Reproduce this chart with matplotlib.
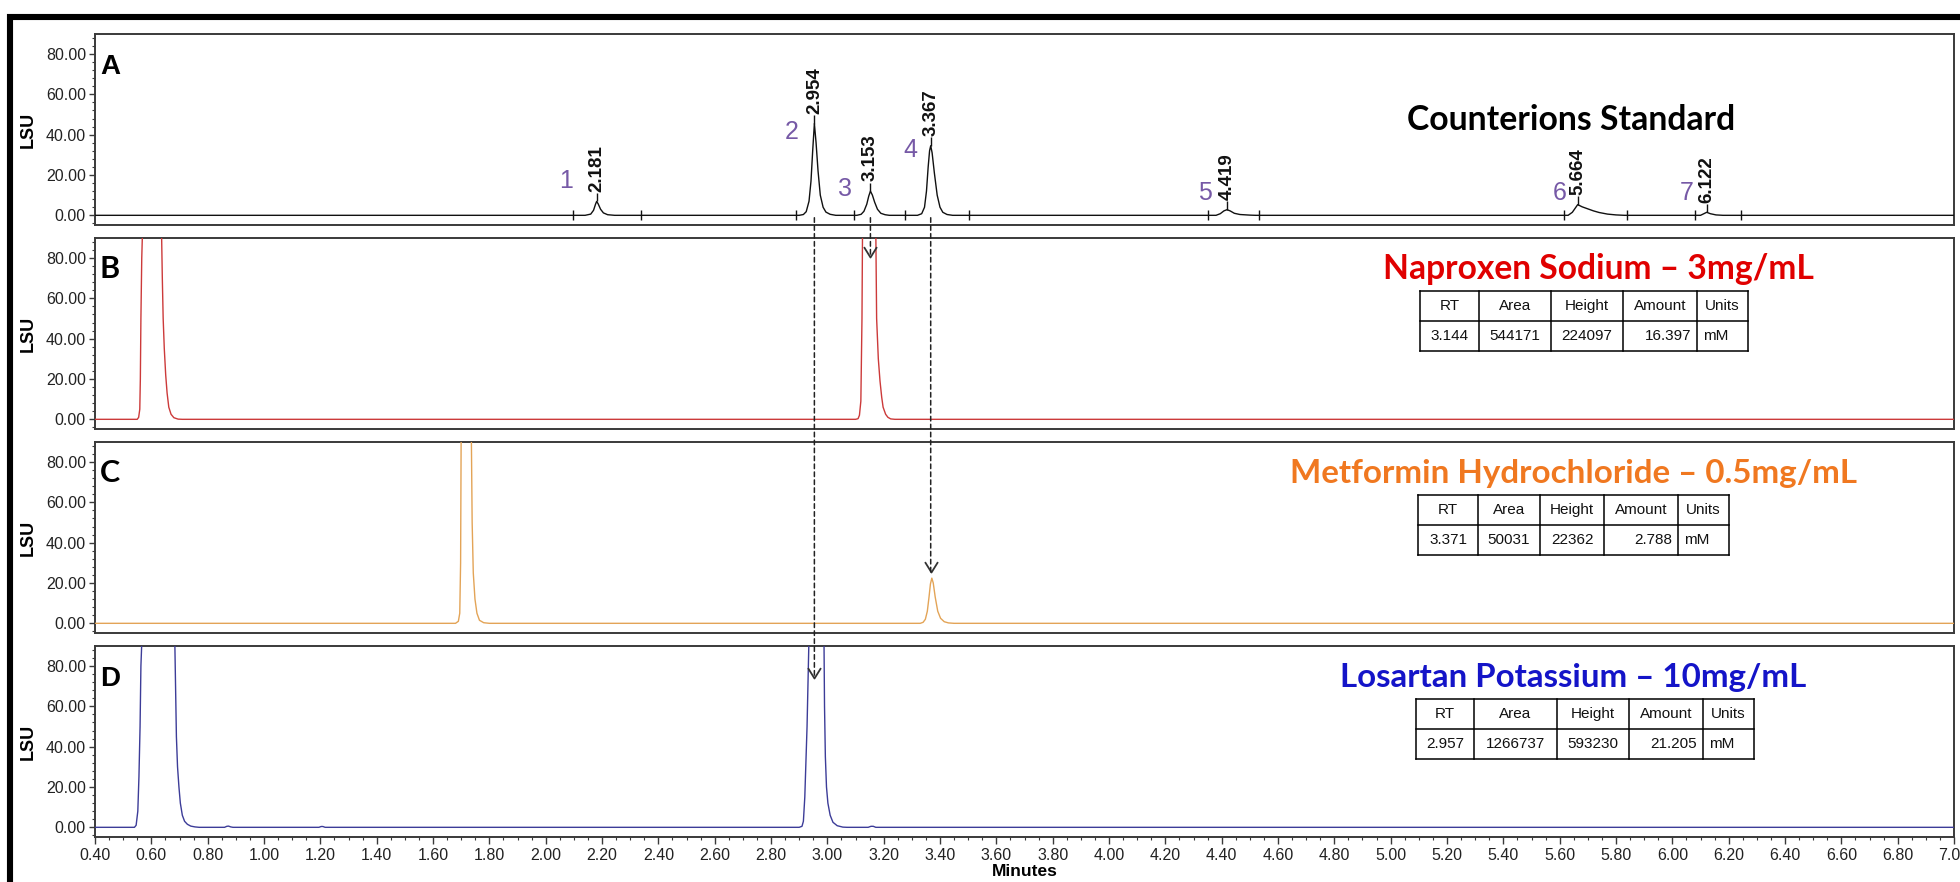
import matplotlib
matplotlib.use("Agg")
import matplotlib.pyplot as plt
from matplotlib.ticker import MultipleLocator, FormatStrFormatter, NullLocator
from matplotlib.patches import ConnectionPatch, Rectangle
from matplotlib.lines import Line2D
from matplotlib.path import Path

# ----------------------------------------------------------------- data
x_range = (0.40, 7.00)
y_range = (-4.8, 89.9)
y_major = [0, 20, 40, 60, 80]

# A : counterions standard
A_time = [0.40,
          2.140, 2.160, 2.170, 2.177, 2.181, 2.186, 2.195, 2.205, 2.220, 2.245,
          2.900, 2.915, 2.925, 2.935, 2.942, 2.948, 2.954, 2.960, 2.967, 2.975, 2.985, 2.995, 3.010, 3.030,
          3.105, 3.120, 3.130, 3.140, 3.147, 3.153, 3.160, 3.168, 3.178, 3.190, 3.205, 3.220,
          3.320, 3.335, 3.345, 3.352, 3.358, 3.363, 3.367, 3.372, 3.380, 3.390, 3.400, 3.410, 3.425, 3.445,
          4.380, 4.395, 4.408, 4.419, 4.430, 4.445, 4.465, 4.500, 4.520,
          5.630, 5.645, 5.655, 5.664, 5.680, 5.700, 5.720, 5.740, 5.770, 5.800, 5.830,
          6.100, 6.112, 6.122, 6.135, 6.155, 6.180,
          7.00]
A_sig = [0,
         0, 0.6, 2.5, 5.5, 6.9, 5.8, 3.0, 1.2, 0.3, 0,
         0, 0.4, 1.8, 7, 17, 32, 45.5, 36, 22, 10, 4, 1.6, 0.5, 0,
         0, 0.5, 2, 5.5, 9.5, 12, 10, 6.5, 3, 1, 0.3, 0,
         0, 0.8, 4, 12, 24, 32, 34.5, 31, 21, 10, 4, 1.5, 0.4, 0,
         0, 0.8, 2.2, 2.8, 2.2, 1.0, 0.4, 0.1, 0,
         0, 1.5, 3.5, 5.3, 4.2, 3.2, 2.2, 1.4, 0.6, 0.2, 0,
         0, 0.8, 1.5, 0.8, 0.2, 0,
         0]

peak_numbers = [1, 2, 3, 4, 5, 6, 7]
peak_rt = [2.181, 2.954, 3.153, 3.367, 4.419, 5.664, 6.122]
peak_height = [6.9, 45.5, 12.0, 34.5, 2.8, 5.3, 1.5]
integration_marks = [2.096, 2.337, 2.887, 3.094, 3.275, 3.503, 4.351, 4.534,
                     5.614, 5.840, 6.082, 6.243]

# B : naproxen sodium
B_time = [0.40, 0.550, 0.555, 0.559, 0.561, 0.563, 0.566, 0.569, 0.600, 0.636, 0.639, 0.642,
          0.646, 0.651, 0.656, 0.662, 0.670, 0.680, 0.695, 0.710,
          3.100, 3.109, 3.114, 3.119, 3.123, 3.125, 3.145, 3.172, 3.175, 3.181, 3.187, 3.193,
          3.198, 3.207, 3.215, 3.225, 3.240, 7.00]
B_sig = [0, 0, 1, 5, 20, 50, 80, 95, 300, 95, 70, 50,
         35, 22, 13, 6, 2.5, 0.8, 0.1, 0,
         0, 0.3, 2, 9, 50, 95, 250, 95, 50, 30, 19, 11,
         6, 2.5, 1, 0.2, 0, 0]

# C : metformin hydrochloride
C_time = [0.40, 1.680, 1.690, 1.695, 1.698, 1.700, 1.718, 1.736, 1.739, 1.743, 1.749, 1.756,
          1.765, 1.780, 1.800,
          3.330, 3.340, 3.348, 3.355, 3.361, 3.366, 3.371, 3.376, 3.383, 3.392, 3.402, 3.415,
          3.430, 3.450, 7.00]
C_sig = [0, 0, 1, 5, 30, 95, 250, 95, 50, 25, 12, 5,
         1.5, 0.3, 0,
         0, 0.5, 2, 6, 13, 19.5, 22.4, 20, 13, 6, 2.5, 0.8,
         0.2, 0, 0]

# D : losartan potassium
D_time = [0.40, 0.540, 0.546, 0.552, 0.556, 0.560, 0.563, 0.567, 0.620, 0.683, 0.686, 0.689,
          0.693, 0.698, 0.703, 0.710, 0.718, 0.728, 0.740, 0.755, 0.770,
          0.860, 0.868, 0.874, 0.882, 0.890,
          1.195, 1.203, 1.209, 1.217,
          2.900, 2.910, 2.915, 2.920, 2.928, 2.935, 2.960, 2.988, 2.990, 2.993, 2.997, 3.002,
          3.010, 3.020, 3.035, 3.055, 3.070,
          3.145, 3.155, 3.163, 3.172, 7.00]
D_sig = [0, 0, 1, 8, 25, 50, 80, 95, 600, 95, 70, 45,
         30, 20, 12, 6, 3, 1.5, 0.6, 0.2, 0,
         0, 0.5, 0.6, 0.2, 0,
         0, 0.4, 0.4, 0,
         0, 0.5, 3, 15, 50, 95, 600, 95, 60, 35, 20, 12,
         6, 2.5, 0.8, 0.1, 0,
         0, 0.5, 0.5, 0, 0]

panel_letters = ["A", "B", "C", "D"]
titles = ["Counterions Standard", "Naproxen Sodium \u2013 3mg/mL",
          "Metformin Hydrochloride \u2013 0.5mg/mL", "Losartan Potassium \u2013 10mg/mL"]

table_header = ["RT", "Area", "Height", "Amount", "Units"]
table_rows = {
    "B": ["3.144", "544171", "224097", "16.397", "mM"],
    "C": ["3.371", "50031", "22362", "2.788", "mM"],
    "D": ["2.957", "1266737", "593230", "21.205", "mM"],
}

# arrows: retention time, target panel, level of the arrow tip (LSU)
arrow_rt = [2.954, 3.153, 3.367]
arrow_target = ["D", "B", "C"]
arrow_tip = [74.0, 80.5, 25.3]

# ----------------------------------------------------------------- style
W, H = 1960, 882
fig = plt.figure(figsize=(W / 100, H / 100), dpi=100)
fig.patch.set_facecolor("white")

def px(x, y):
    return x / W, 1 - y / H

trace_colors = ["#111111", "#cc3a3a", "#e3a457", "#3c3c98"]
title_colors = ["#000000", "#e00000", "#f07820", "#1414c8"]
spine_col = "#3a3a3a"
sans = ["Liberation Sans", "DejaVu Sans"]
tick_size = 11.5

ax_left, ax_w, ax_h = 95, 1859, 191
ax_tops = [34, 238, 442, 646]

axes = {}
for i, name in enumerate(panel_letters):
    top = ax_tops[i]
    ax = fig.add_axes([ax_left / W, 1 - (top + ax_h) / H, ax_w / W, ax_h / H])
    axes[name] = ax
    ax.set_xlim(*x_range)
    ax.set_ylim(*y_range)
    for s in ax.spines.values():
        s.set_color(spine_col)
        s.set_linewidth(1.4)
    ax.set_yticks(y_major)
    ax.yaxis.set_major_formatter(FormatStrFormatter("%.2f"))
    ax.yaxis.set_minor_locator(MultipleLocator(4))
    ax.tick_params(axis="y", which="major", direction="out", length=4.5, width=1.0,
                   color=spine_col, pad=2, labelcolor="#222222")
    ax.tick_params(axis="y", which="minor", direction="out", length=2.5, width=0.8, color=spine_col)
    for lab in ax.get_yticklabels():
        lab.set_fontfamily(sans)
        lab.set_fontsize(tick_size)
    ax.set_ylabel("LSU", fontsize=13, fontweight="bold", family=sans)
    ax.yaxis.set_label_coords(-0.0315, 0.5)
    if name != "D":
        ax.xaxis.set_major_locator(NullLocator())
        ax.xaxis.set_minor_locator(NullLocator())
    else:
        ax.xaxis.set_major_locator(MultipleLocator(0.2))
        ax.xaxis.set_minor_locator(MultipleLocator(0.05))
        ax.xaxis.set_major_formatter(FormatStrFormatter("%.2f"))
        ax.tick_params(axis="x", which="major", direction="out", length=5, width=1.0,
                       color=spine_col, pad=3, labelcolor="#222222")
        ax.tick_params(axis="x", which="minor", direction="out", length=2.5, width=0.8, color=spine_col)
        for lab in ax.get_xticklabels():
            lab.set_fontfamily(sans)
            lab.set_fontsize(tick_size)
        ax.set_xlabel("Minutes", fontsize=12.5, fontweight="bold", family=sans, labelpad=1)

    # panel letter
    lfam = sans if name in ("A", "D") else ["Lato", "DejaVu Sans"]
    ax.text(0.4 + 5 / 281.7, 70.0, name, fontsize=20 if name in ("A", "D") else 22,
            fontweight="bold", family=lfam, ha="left", va="baseline", color="black")

traces = {"A": (A_time, A_sig), "B": (B_time, B_sig), "C": (C_time, C_sig), "D": (D_time, D_sig)}
for i, name in enumerate(panel_letters):
    t, s = traces[name]
    axes[name].plot(t, s, color=trace_colors[i], lw=1.0, solid_joinstyle="round", zorder=3)

# ---- panel A annotations
axA = axes["A"]
axA.vlines(integration_marks, -2.4, 2.4, color="#111111", lw=1.0, zorder=4)
num_layout = [(-0.110, 17.2), (-0.081, 41.2), (-0.091, 13.2), (-0.072, 32.6),
              (-0.077, 11.3), (-0.065, 11.3), (-0.071, 11.3)]
for n, rt, h, (dx, ny) in zip(peak_numbers, peak_rt, peak_height, num_layout):
    axA.vlines(rt, h, h + 4.2, color="#111111", lw=1.0, zorder=4)
    axA.text(rt, h + 4.8, f"{rt:.3f}", rotation=90, ha="center", va="bottom",
             fontsize=13.5, fontweight="bold", family=sans, color="#111111")
    axA.text(rt + dx, ny, str(n), ha="center", va="center", fontsize=18,
             family=sans, color="#7659a6")

# ---- dashed arrows
vmark = Path([(-0.62, 1.0), (0.0, 0.0), (0.62, 1.0)], [Path.MOVETO, Path.LINETO, Path.LINETO])
for rt, tgt, tip in zip(arrow_rt, arrow_target, arrow_tip):
    axT = axes[tgt]
    cp = ConnectionPatch(xyA=(rt, -1.2), coordsA=axA.transData,
                         xyB=(rt, tip), coordsB=axT.transData,
                         linestyle=(0, (3.0, 2.2)), color="#222222", lw=1.1, zorder=10)
    fig.add_artist(cp)
    axT.plot([rt], [tip], marker=vmark, ms=15, mfc="none", mec="#333333", mew=1.3,
             clip_on=False, zorder=11, linestyle="none")

# ---- titles (fitted to their measured span)
renderer = fig.canvas.get_renderer()
title_fam = ["Lato", "DejaVu Sans"]
title_left = [1407, 1383, 1290, 1340]
title_right = [1736, 1815, 1858, 1807]
title_baseline = [130, 279, 483, 687]
for i in range(4):
    x, y = px(title_left[i], title_baseline[i])
    t = fig.text(x, y, titles[i], ha="left", va="baseline", fontsize=23, fontweight="bold",
                 family=title_fam, color=title_colors[i])
    w = t.get_window_extent(renderer).width
    t.set_fontsize(23 * (title_right[i] - title_left[i]) / w)

# ---- tables
def draw_table(left, top, col_w, row_h, header, row):
    total = sum(col_w)
    xs = [left]
    for w in col_w:
        xs.append(xs[-1] + w)
    for yy in [top, top + row_h, top + 2 * row_h]:
        (x0, y0), (x1, _) = px(left, yy), px(left + total, yy)
        fig.add_artist(Line2D([x0, x1], [y0, y0], color="black", lw=1.1,
                              transform=fig.transFigure, solid_capstyle="projecting"))
    for xx in xs:
        (x0, y0), (_, y1) = px(xx, top), px(xx, top + 2 * row_h)
        fig.add_artist(Line2D([x0, x0], [y0, y1], color="black", lw=1.1,
                              transform=fig.transFigure, solid_capstyle="projecting"))
    aligns = ["center", "center", "center", "right", "left"]
    for j in range(5):
        cx = (xs[j] + xs[j + 1]) / 2
        x, y = px(cx, top + row_h / 2)
        fig.text(x, y, header[j], ha="center", va="center", fontsize=11, family=sans,
                 color="#111111")
        if aligns[j] == "center":
            xx = cx
        elif aligns[j] == "right":
            xx = xs[j + 1] - 6
        else:
            xx = xs[j] + 6
        x, y = px(xx, top + row_h * 1.5)
        fig.text(x, y, row[j], ha=aligns[j], va="center", fontsize=11, family=sans,
                 color="#111111")

table_left = [1420, 1418, 1416]
table_cols = [[59, 72, 72, 74, 51], [60, 62, 64, 74, 51], [58, 83, 72, 74, 51]]
for k, name in enumerate(["B", "C", "D"]):
    top = ax_tops[k + 1] + 53
    draw_table(table_left[k], top, table_cols[k], 30, table_header, table_rows[name])

# ---- thick outer frame
fig.add_artist(Rectangle((10 / W, -0.2), 1.5, 1 - 17 / H + 0.2, fill=False, ec="black",
                         lw=4.4, transform=fig.transFigure, joinstyle="miter", zorder=20))

fig.savefig("out.png", dpi=100, facecolor="white")
